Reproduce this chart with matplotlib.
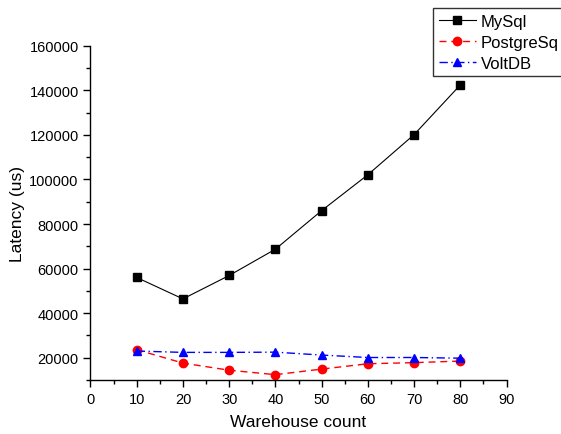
import matplotlib
matplotlib.use("Agg")
import matplotlib.pyplot as plt
from matplotlib.ticker import MultipleLocator

plt.rcParams["font.family"] = ["Liberation Sans", "DejaVu Sans"]

warehouses = [10, 20, 30, 40, 50, 60, 70, 80]
mysql = [56000, 46400, 56900, 68700, 86000, 102100, 120100, 142400]
postgres = [23600, 17600, 14400, 12400, 14900, 17300, 17800, 18500]
voltdb = [23000, 22400, 22400, 22500, 21200, 20100, 20100, 19800]

fig = plt.figure(figsize=(5.61, 4.35), dpi=100)
ax = fig.add_axes([0.1613, 0.1241, 0.7416, 0.7685])

ax.plot(warehouses, mysql, color="black", lw=0.8, marker="s", ms=5.5,
        label="MySql")
ax.plot(warehouses, postgres, color="red", lw=1.0, ls=(0, (5, 3.5)), marker="o",
        ms=6, label="PostgreSq")
ax.plot(warehouses, voltdb, color="blue", lw=1.0, ls=(0, (6, 2.5, 1, 2.5)),
        marker="^", ms=6, label="VoltDB")

ax.set_xlim(0, 90)
ax.set_ylim(10000, 160000)
ax.xaxis.set_major_locator(MultipleLocator(10))
ax.xaxis.set_minor_locator(MultipleLocator(5))
ax.yaxis.set_major_locator(MultipleLocator(20000))
ax.yaxis.set_minor_locator(MultipleLocator(10000))
ax.set_yticks(range(20000, 160001, 20000))

for s in ["top", "right"]:
    ax.spines[s].set_visible(False)
for s in ["left", "bottom"]:
    ax.spines[s].set_linewidth(1.0)
ax.tick_params(which="major", direction="out", length=5, width=1.0,
               labelsize=10.5)
ax.tick_params(which="minor", direction="out", length=3, width=1.0)

ax.set_xlabel("Warehouse count", fontsize=12.5, labelpad=6)
ax.set_ylabel("Latency (us)", fontsize=12.5, labelpad=3)

leg = fig.legend(loc="upper left", bbox_to_anchor=(0.772, 0.979),
                 fontsize=12, frameon=True, fancybox=False, edgecolor="black",
                 handlelength=2.2, borderpad=0.35, labelspacing=0.35,
                 handletextpad=0.3, borderaxespad=0)
leg.get_frame().set_linewidth(1.0)

fig.savefig("out.png", dpi=100)
